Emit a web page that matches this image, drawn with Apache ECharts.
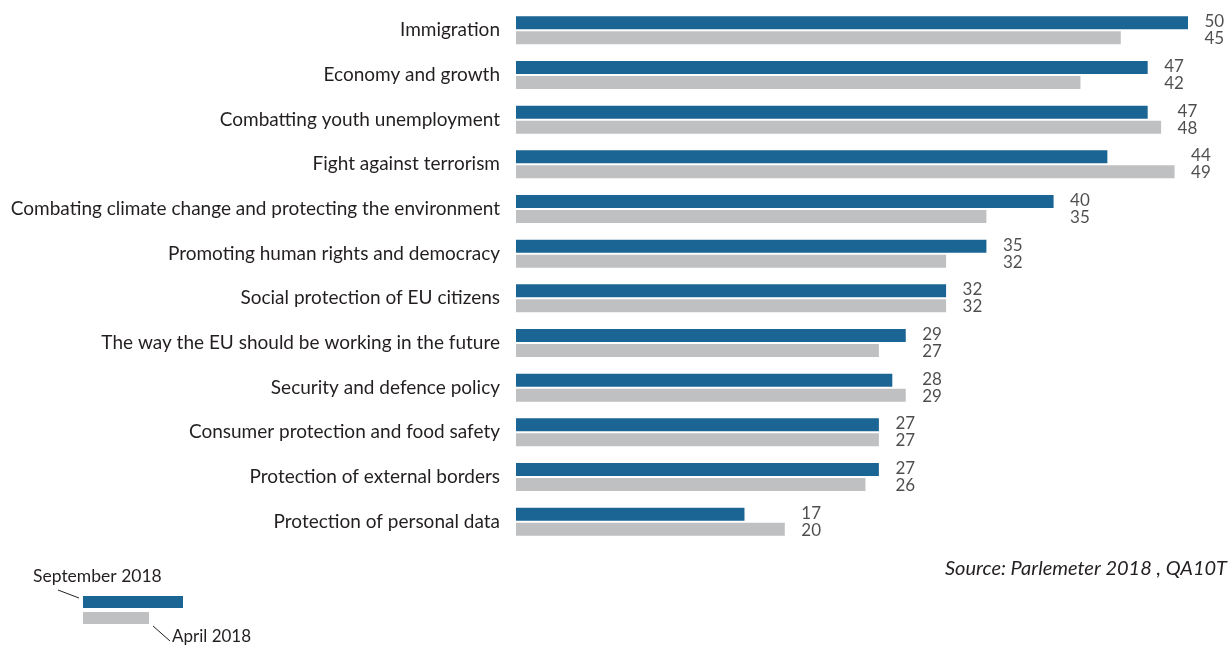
<!DOCTYPE html>
<html>
<head>
<meta charset="utf-8">
<script src="https://cdn.jsdelivr.net/npm/echarts@6/dist/echarts.min.js"></script>
<style>
  html, body { margin: 0; padding: 0; background: #fff; }
  #chart { width: 1231px; height: 648px; }
</style>
</head>
<body>
<div id="chart"></div>
<script>
  // categories top to bottom
  const categories = [
    'Immigration',
    'Economy and growth',
    'Combatting youth unemployment',
    'Fight against terrorism',
    'Combating climate change and protecting the environment',
    'Promoting human rights and democracy',
    'Social protection of EU citizens',
    'The way the EU should be working in the future',
    'Security and defence policy',
    'Consumer protection and food safety',
    'Protection of external borders',
    'Protection of personal data'
  ]
  const sep2018 = [50, 47, 47, 44, 40, 35, 32, 29, 28, 27, 27, 17]
  const apr2018 = [45, 42, 48, 49, 35, 32, 32, 27, 29, 27, 26, 20]

  const blue = '#1b6594'
  const grey = '#bec0c2'
  const textColor = '#231f20'
  const font = 'Lato'

  // label column sits right of the longer bar of each pair
  const labelPos = categories.map((c, i) => [Math.max(sep2018[i], apr2018[i]), c, sep2018[i], apr2018[i]])

  const chart = echarts.init(document.getElementById('chart'))
  const option = {
    animation: false,
    textStyle: { fontFamily: font },
    grid: { left: 516, right: 43, top: 8, height: 536, containLabel: false },
    xAxis: {
      type: 'value',
      min: 0,
      max: 50,
      show: false
    },
    yAxis: {
      type: 'category',
      inverse: true,
      data: categories,
      axisLine: { show: false },
      axisTick: { show: false },
      axisLabel: { color: textColor, fontSize: 19, fontFamily: font, margin: 16, padding: [0, 0, 6, 0] }
    },
    series: [
      {
        name: 'September 2018',
        type: 'bar',
        data: sep2018,
        barWidth: 13,
        barGap: '15%',
        itemStyle: { color: blue }
      },
      {
        name: 'April 2018',
        type: 'bar',
        data: apr2018,
        barWidth: 13,
        itemStyle: { color: grey }
      },
      {
        type: 'scatter',
        data: labelPos,
        symbolSize: 1,
        itemStyle: { color: 'rgba(0,0,0,0)' },
        silent: true,
        label: {
          show: true,
          position: 'right',
          distance: 16,
          color: textColor,
          fontSize: 17,
          lineHeight: 17,
          fontFamily: font,
          padding: [2, 0, 0, 0],
          formatter: p => p.data[2] + '\n' + p.data[3]
        }
      }
    ],
    graphic: [
      { type: 'rect', left: 83, top: 596, shape: { width: 100, height: 12 }, style: { fill: blue } },
      { type: 'rect', left: 83, top: 612, shape: { width: 66, height: 12 }, style: { fill: grey } },
      { type: 'text', left: 33, top: 567, style: { text: 'September 2018', fill: textColor, font: '17.5px Lato' } },
      { type: 'line', shape: { x1: 58, y1: 590, x2: 79, y2: 598 }, style: { stroke: textColor, lineWidth: 1 } },
      { type: 'line', shape: { x1: 153, y1: 626, x2: 170, y2: 641 }, style: { stroke: textColor, lineWidth: 1 } },
      { type: 'text', left: 172, top: 628, style: { text: 'April 2018', fill: textColor, font: '17px Lato' } },
      { type: 'text', right: 4, top: 559, style: { text: 'Source: Parlemeter 2018 , QA10T', fill: textColor, font: 'italic 20px Lato' } }
    ]
  }
  chart.setOption(option)
</script>
</body>
</html>
